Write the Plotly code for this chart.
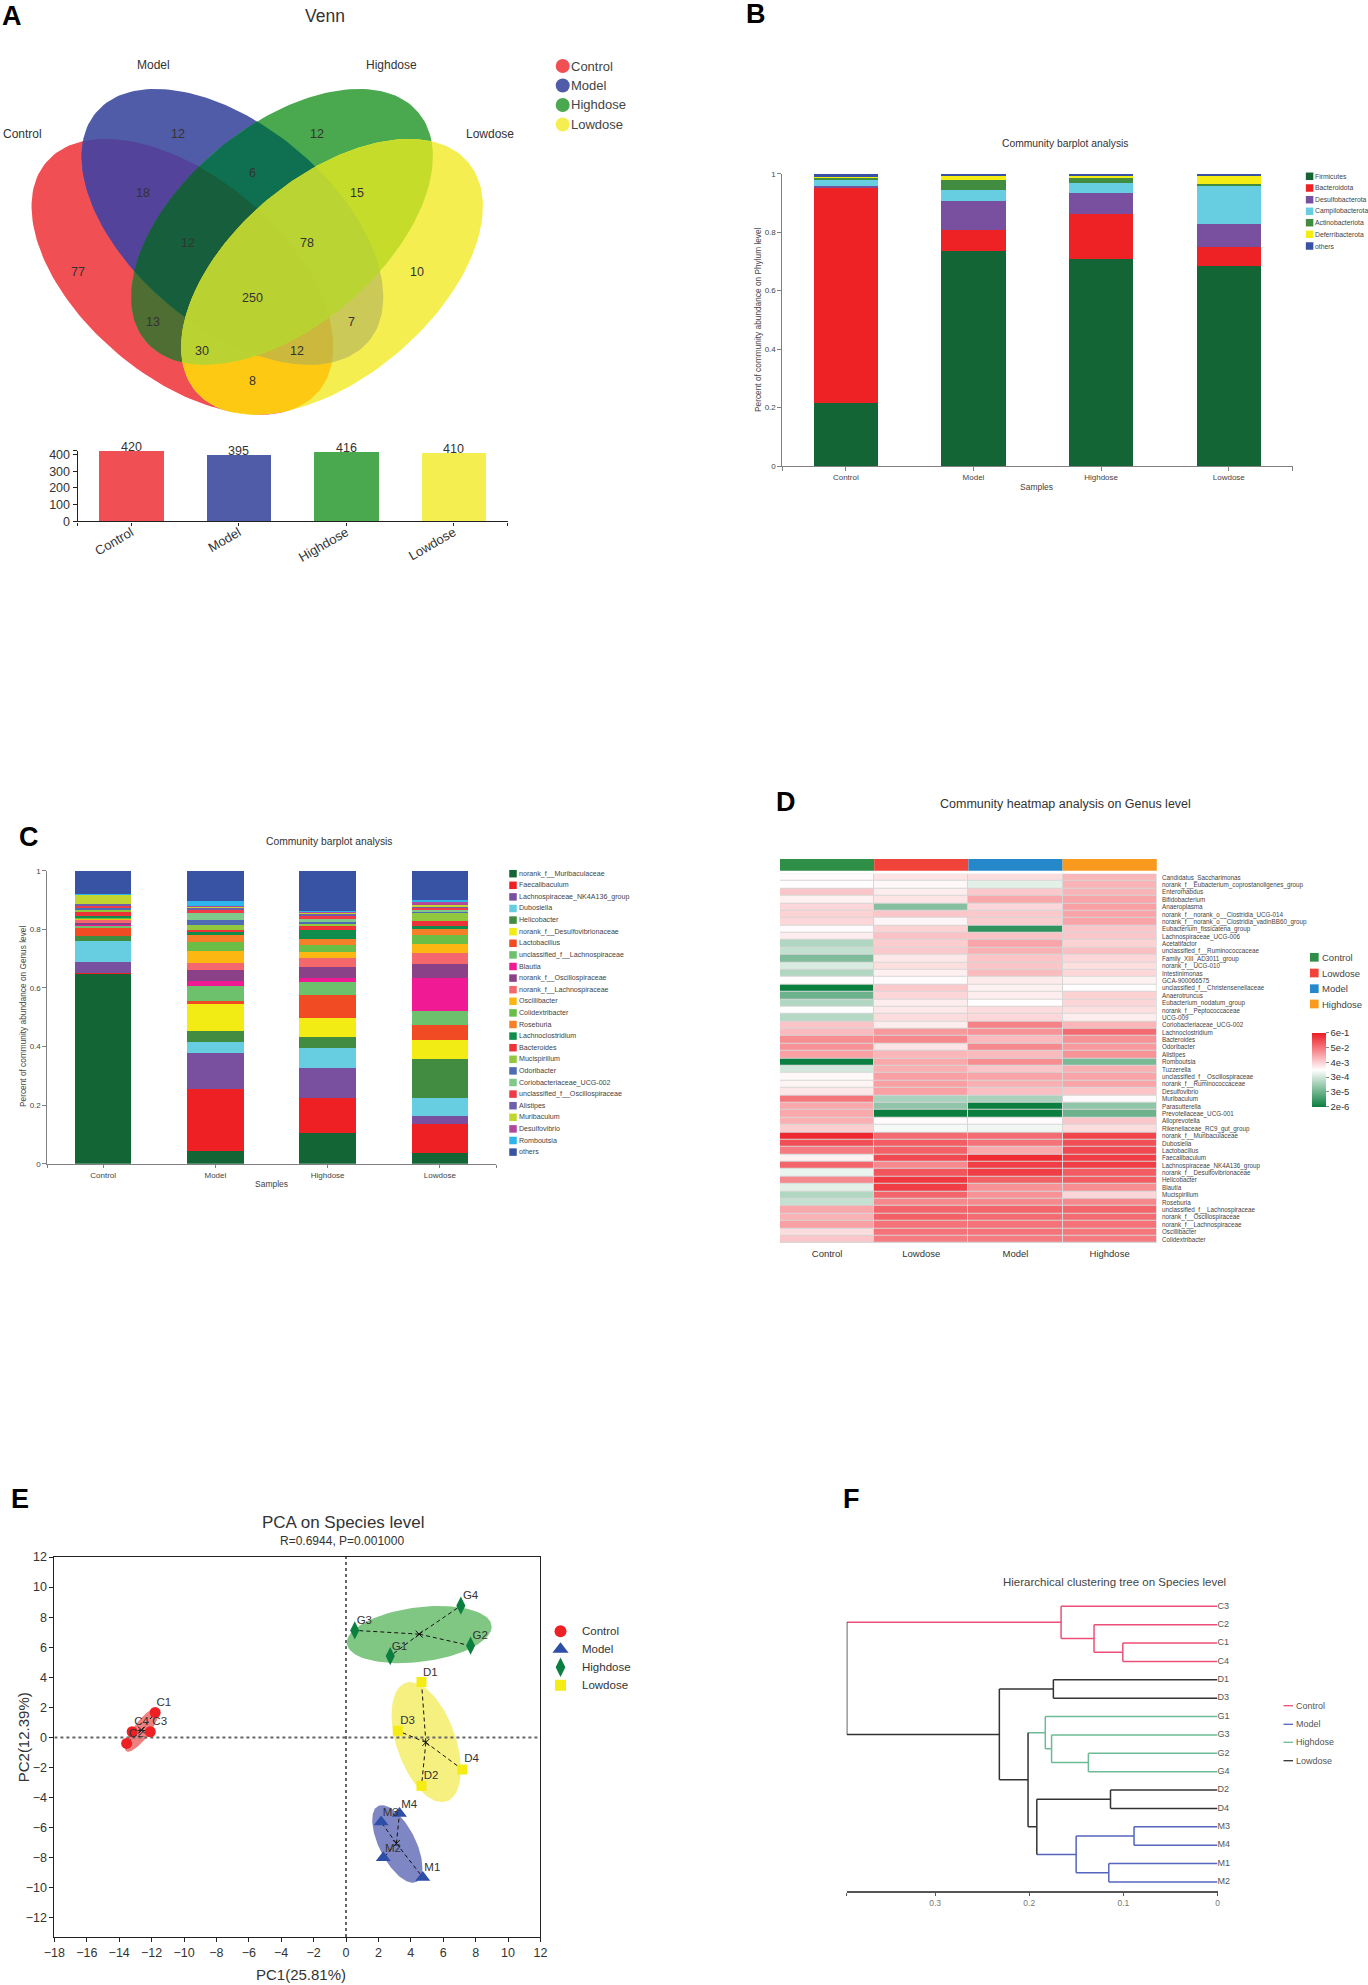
import itertools
import numpy as np
import plotly.graph_objects as go

W, H = 1368, 1985
FONT = "Liberation Sans"

GROUPS = ["Control", "Model", "Highdose", "Lowdose"]

# ---------- A: Venn ----------
venn_sizes = [420, 395, 416, 410]
venn_region_values = [
    ("12", 177.6, 134), ("12", 317, 134), ("6", 252, 173), ("18", 143, 193), ("15", 357, 193),
    ("12", 188, 243), ("78", 307, 243), ("77", 78, 272.5), ("10", 416.7, 272.5), ("250", 252, 297.5),
    ("13", 153, 322), ("7", 351, 322), ("30", 202, 351.4), ("12", 297, 351.4), ("8", 252, 381.4),
]
venn_cx = [182.4, 232.4, 282.0, 332.0]
venn_cy = [276.8, 226.8, 226.8, 276.8]
venn_a, venn_b = 178, 100.5
venn_theta = [40, 40, -40, -40]
venn_colors = ["#F04F54", "#515CA8", "#4AA84F", "#F5EE50"]
venn_overlap_colors = {
    (0, 1): "#53439A", (1, 2): "#0E7050", (2, 3): "#C6DC2B", (0, 3): "#FDC913",
    (0, 2): "#4F6E33", (1, 3): "#CBC957", (0, 1, 2): "#175F3C", (1, 2, 3): "#B9D433",
    (0, 2, 3): "#BAD232", (0, 1, 3): "#CBB83D", (0, 1, 2, 3): "#BAD132",
}

# ---------- B: phylum ----------
phylum_names = ["Firmicutes", "Bacteroidota", "Desulfobacterota", "Campilobacterota",
                "Actinobacteriota", "Deferribacterota", "others"]
phylum_colors = ["#136535", "#EE2124", "#794FA0", "#67CEE2", "#428C41", "#F5EC14", "#3853A4"]
phylum_control = [.214, .7414, .004, .018, .010, .0005, .0121]
phylum_model = [.7346, .074, .098, .0376, .034, .0172, .0046]
phylum_high = [.7096, .1537, .0717, .034, .0205, .0035, .007]
phylum_low = [.6845, .065, .0775, .13, .007, .032, .004]

# ---------- C: genus ----------
genus_names = ["norank_f__Muribaculaceae", "Faecalibaculum", "Lachnospiraceae_NK4A136_group", "Dubosiella",
               "Helicobacter", "norank_f__Desulfovibrionaceae", "Lactobacillus", "unclassified_f__Lachnospiraceae",
               "Blautia", "norank_f__Oscillospiraceae", "norank_f__Lachnospiraceae", "Oscillibacter",
               "Colidextribacter", "Roseburia", "Lachnoclostridium", "Bacteroides", "Mucispirillum", "Odoribacter",
               "Coriobacteriaceae_UCG-002", "unclassified_f__Oscillospiraceae", "Alistipes", "Muribaculum",
               "Desulfovibrio", "Romboutsia", "others"]
genus_colors = ["#136535", "#EE2024", "#794FA0", "#67CEE2", "#428C41", "#F3EC14", "#F04B22", "#6EC16C",
                "#EF1A94", "#8B4188", "#F4676D", "#FDB713", "#6ABD45", "#F68028", "#0F8D4D", "#EE3338",
                "#92C83E", "#4E6CB4", "#7FC98B", "#EE3B47", "#6D5FAB", "#C2D62F", "#B2489C", "#2EB6EC", "#3853A4"]
genus_control = [.6485, .001, .04, .0694, .0194, .0005, .0255, .009, .0005, .009, .0103, .0035, .0035, .001,
                 .0045, .017, .004, .0095, .001, .001, .0095, .0324, .001, .001, .078]
genus_model = [.0432, .2105, .1251, .0376, .0375, .091, .0103, .0523, .0148, .0387, .0239, .0398, .033, .0227,
               .0137, .0045, .0148, .0194, .0239, .0125, .0057, .0034, .0011, .0159, .1047]
genus_high = [.1047, .1183, .1035, .0683, .0364, .0671, .0774, .0443, .0148, .0364, .0296, .0216, .0239, .0205,
              .0318, .016, .0034, .0102, .0068, .0114, .0091, .0045, .0011, .0011, .1378]
genus_low = [.0364, .1001, .025, .0638, .1319, .0649, .0512, .0477, .1127, .0478, .0364, .0318, .0319, .0204,
             .0103, .0171, .0306, .0023, .0034, .0114, .0034, .0011, .0137, .0057, .099]

# ---------- D: heatmap (colour level, -100 = 2e-6 ... +100 = 6e-1, log scale) ----------
heat_groups = ["Control", "Lowdose", "Model", "Highdose"]
heat_group_colors = ["#2F8F46", "#F0433A", "#2488CB", "#F99A1F"]
heat_rows = ["Candidatus_Saccharimonas", "norank_f__Eubacterium_coprostanoligenes_group", "Enterorhabdus",
             "Bifidobacterium", "Anaeroplasma", "norank_f__norank_o__Clostridia_UCG-014",
             "norank_f__norank_o__Clostridia_vadinBB60_group", "Eubacterium_fissicatena_group",
             "Lachnospiraceae_UCG-006", "Acetatifactor", "unclassified_f__Ruminococcaceae",
             "Family_XIII_AD3011_group", "norank_f__UCG-010", "Intestinimonas", "GCA-900066575",
             "unclassified_f__Christensenellaceae", "Anaerotruncus", "Eubacterium_nodatum_group",
             "norank_f__Peptococcaceae", "UCG-009", "Coriobacteriaceae_UCG-002", "Lachnoclostridium", "Bacteroides",
             "Odoribacter", "Alistipes", "Romboutsia", "Tuzzerella", "unclassified_f__Oscillospiraceae",
             "norank_f__Ruminococcaceae", "Desulfovibrio", "Muribaculum", "Parasutterella", "Prevotellaceae_UCG-001",
             "Alloprevotella", "Rikenellaceae_RC9_gut_group", "norank_f__Muribaculaceae", "Dubosiella",
             "Lactobacillus", "Faecalibaculum", "Lachnospiraceae_NK4A136_group", "norank_f__Desulfovibrionaceae",
             "Helicobacter", "Blautia", "Mucispirillum", "Roseburia", "unclassified_f__Lachnospiraceae",
             "norank_f__Oscillospiraceae", "norank_f__Lachnospiraceae", "Oscillibacter", "Colidextribacter"]
heat_control = [2, 1, 25, 6, 18, 20, 18, 2, 8, -32, -24, -52, -15, -32, 1, -100, -60, -32, 0, -30, 26, 30, 50, 48, 42,
                -100, -18, 3, 5, 10, 60, 38, 38, 35, 22, 95, 78, 58, 6, 68, -8, 52, -12, -32, -24, 38, 34, 42, 15, 25]
heat_low = [12, 3, 8, 12, -50, 25, 4, 20, 27, 22, 24, 10, 14, 7, 2, 24, 18, 8, 10, 15, 8, 45, 52, 12, 32,
            38, 35, 42, 42, 42, -35, -45, -100, 2, -4, 65, 72, 70, 80, 52, 75, 88, 85, 68, 52, 68, 70, 62, 62, 58]
heat_model = [15, -12, 24, 38, 18, 24, 22, -85, 27, 40, 35, 26, 26, 30, 9, 6, 8, 1, 16, 17, 55, 48, 30, 52, 30,
              50, 25, 40, 35, 28, -35, -100, -100, 2, -6, 65, 62, 38, 93, 85, 85, 70, 48, 48, 52, 68, 65, 62, 62, 58]
heat_high = [32, 33, 33, 40, 42, 40, 40, 25, 25, 20, 28, 18, 14, 18, 6, 1, 20, 18, 14, 8, 32, 65, 48, 45, 48,
             -55, 35, 40, 40, 26, 2, -45, -60, 25, 15, 82, 78, 80, 85, 85, 72, 72, 50, 18, 52, 68, 65, 62, 60, 58]
heat_tick_levels = [-100, -60, -20, 20, 60, 100]
heat_tick_text = ["2e-6", "3e-5", "3e-4", "4e-3", "5e-2", "6e-1"]

# ---------- E: PCA ----------
pca_names = ["Control", "Model", "Highdose", "Lowdose"]
pca_x = {"Control": [-11.78, -13.54, -12.08, -13.2], "Model": [4.74, 2.3, 2.17, 3.3],
         "Highdose": [2.73, 7.69, .54, 7.09], "Lowdose": [4.66, 4.66, 3.2, 7.18]}
pca_y = {"Control": [1.66, -.4, .38, .38], "Model": [-9.31, -8.0, -5.63, -5.06],
         "Highdose": [5.41, 6.1, 7.12, 8.76], "Lowdose": [3.68, -3.22, .44, -2.13]}
pca_labels = {"Control": ["C1", "C2", "C3", "C4"], "Model": ["M1", "M2", "M3", "M4"],
              "Highdose": ["G1", "G2", "G3", "G4"], "Lowdose": ["D1", "D2", "D3", "D4"]}
pca_label_x = {"Control": [-11.24, -12.95, -11.5, -12.62], "Model": [5.33, 2.9, 2.76, 3.9],
               "Highdose": [3.3, 8.29, 1.13, 7.69], "Lowdose": [5.2, 5.25, 3.8, 7.75]}
pca_label_y = {"Control": [2.3, .22, 1.0, 1.04], "Model": [-8.72, -7.43, -5.06, -4.5],
               "Highdose": [5.98, 6.75, 7.76, 9.4], "Lowdose": [4.3, -2.57, 1.06, -1.47]}
pca_center = {"Control": (-12.62, .49), "Model": (3.11, -7.05), "Highdose": (4.52, 6.87), "Lowdose": (4.93, -.33)}
pca_ellipse = {"Control": (-12.6, .5, 1.05, 1.45, .95), "Model": (3.17, -7.08, 1.55, 2.58, -.66),
               "Highdose": (4.52, 6.84, 4.47, 1.9, .28), "Lowdose": (4.95, -.31, 2.14, 3.99, -.47)}
pca_fill = {"Control": "#EF8080", "Model": "#7F86C4", "Highdose": "#81C784", "Lowdose": "#F5F080"}
pca_marker = {"Control": ("circle", "#EE2024", 11), "Model": ("triangle-up", "#2E4FA8", 13),
              "Highdose": ("diamond-tall", "#0B7F40", 13), "Lowdose": ("square", "#F5EC14", 10)}

# ---------- F: dendrogram ----------
leaf_names = ["C3", "C2", "C1", "C4", "D1", "D3", "G1", "G3", "G2", "G4", "D2", "D4", "M3", "M4", "M1", "M2"]
DEN = {"C": "#EE4F78", "M": "#5565BE", "G": "#6DBB95", "D": "#333333"}
merge_left = ["C1", "C2", "C3", "D1", "G2", "G3", "G1", "D2", "M3", "M1", "m9", "m8", "m7", "m4", "m3"]
merge_right = ["C4", "m1", "m2", "D3", "G4", "m5", "m6", "D4", "M4", "M2", "m10", "m11", "m12", "m13", "m14"]
merge_height = [.1006, .1312, .1662, .1744, .1372, .1763, .183, .1137, .0887, .1155, .1502, .192, .2013, .2318, .394]
merge_clade = ["C", "C", "C", "D", "G", "G", "G", "D", "M", "M", "M", "D", "D", "D", "D"]
tree_max = .394


def xf(x):
    return x / W


def yf(y):
    return 1 - y / H


def xd(x0, x1):
    return [xf(x0), xf(x1)]


def yd(y0, y1):
    return [yf(y1), yf(y0)]


fig = go.Figure()
ann = []


def note(x, y, text, size=10, color="#333333", anchor="center", angle=0, bold=False):
    ann.append(dict(x=xf(x), y=yf(y), xref="paper", yref="paper", text=f"<b>{text}</b>" if bold else text,
                    showarrow=False, xanchor=anchor, yanchor="middle", textangle=angle, borderpad=0, borderwidth=0,
                    font=dict(size=size, color=color, family=FONT)))


def swatches(colors, names, xm, xt, ys, symbol, msize, fsize, color="#444444"):
    for c, n, y in zip(colors, names, ys):
        fig.add_trace(go.Scatter(x=[xm], y=[y], mode="markers", hoverinfo="skip",
                                 marker=dict(symbol=symbol, size=msize, color=c, line=dict(width=0))))
        note(xt, y, n, fsize, color, "left")


def ellipse_poly(cx, cy, a, b, theta, n=181):
    t = np.linspace(0, 2 * np.pi, n)
    th = np.radians(theta)
    return list(zip(cx + a * np.cos(t) * np.cos(th) - b * np.sin(t) * np.sin(th),
                    cy + a * np.cos(t) * np.sin(th) + b * np.sin(t) * np.cos(th)))


def clip(subject, clipper):
    out = subject
    for (ax, ay), (bx, by) in zip(clipper[:-1], clipper[1:]):
        src, out = out, []
        if not src:
            break
        side = lambda p: (bx - ax) * (p[1] - ay) - (by - ay) * (p[0] - ax)
        for p, q in zip(src, src[1:] + src[:1]):
            sp, sq = side(p), side(q)
            if sp >= 0:
                out.append(p)
            if (sp >= 0) != (sq >= 0):
                r = sp / (sp - sq)
                out.append((p[0] + r * (q[0] - p[0]), p[1] + r * (q[1] - p[1])))
    return out


polys = [ellipse_poly(cx, cy, venn_a, venn_b, th) for cx, cy, th in zip(venn_cx, venn_cy, venn_theta)]
for size in range(1, 5):
    for combo in itertools.combinations(range(4), size):
        shape = polys[combo[0]]
        for k in combo[1:]:
            shape = clip(shape, polys[k])
        col = venn_colors[combo[0]] if size == 1 else venn_overlap_colors[combo]
        if shape:
            xs, ys = zip(*shape)
            fig.add_trace(go.Scatter(x=list(xs) + [xs[0]], y=list(ys) + [ys[0]], mode="lines", fill="toself",
                                     fillcolor=col, line=dict(width=0), hoverinfo="skip"))
for t, x, y in venn_region_values:
    note(x, y, t, 12.5, "#333333")
note(325, 16.5, "Venn", 17.5)
note(153.5, 64.6, "Model", 12)
note(391, 64.6, "Highdose", 12)
note(22, 134, "Control", 12)
note(489.5, 134, "Lowdose", 12)
swatches(venn_colors, GROUPS, 562.7, 571, [66, 85.5, 105, 124.5], "circle", 14, 13)

swatches(phylum_colors, phylum_names, 1309.6, 1315, [176.3, 188, 199.7, 211.3, 222.7, 234.3, 246], "square", 7.5, 6.8)
swatches(genus_colors, genus_names, 513, 518.7, [873.7 + 11.6 * i for i in range(25)], "square", 7.5, 7.1)
swatches(heat_group_colors, heat_groups, 1314.3, 1321.7, [957.3, 973, 988.7, 1004], "square", 8.7, 9.5)
for name, y in zip(pca_names, [1631.3, 1649.3, 1667.3, 1685.3]):
    sym, col, size = pca_marker[name]
    fig.add_trace(go.Scatter(x=[560.5], y=[y], mode="markers", hoverinfo="skip",
                             marker=dict(symbol=sym, size=size + 1, color=col, line=dict(width=0))))
    note(582, y, name, 11.5, anchor="left")
for name, c, y in zip(GROUPS, ["C", "M", "G", "D"], [1705.7, 1724.3, 1742.3, 1760.7]):
    fig.add_trace(go.Scatter(x=[1283.5, 1293], y=[y, y], mode="lines", hoverinfo="skip",
                             line=dict(color=DEN[c], width=1.3)))
    note(1295.8, y, name, 9, "#555555", "left")

for i, c in enumerate(heat_group_colors):
    fig.add_trace(go.Scatter(x=[780 + i * 94.2, 780 + (i + 1) * 94.2], y=[864.8, 864.8], mode="lines",
                             line=dict(color=c, width=11.7), hoverinfo="skip"))

for letter, x, y in [("A", 12, 16), ("B", 756, 14), ("C", 29, 837), ("D", 786, 802), ("E", 20, 1499), ("F", 851, 1499)]:
    note(x, y, letter, 27, "#000000", bold=True)

# ---------- A bars (x2, y2) ----------
fig.add_trace(go.Bar(x=GROUPS, y=venn_sizes, width=0.6, marker=dict(color=venn_colors, line=dict(width=0)),
                     xaxis="x2", yaxis="y2", hoverinfo="skip"))
for g, v in zip(GROUPS, venn_sizes):
    ann.append(dict(x=g, y=v, xref="x2", yref="y2", text=str(v), showarrow=False, yanchor="middle", yshift=4,
                    font=dict(size=12.5, color="#333333", family=FONT)))

# ---------- B stacked (x3, y3) ----------
for i, n in enumerate(phylum_names):
    vals = [phylum_control[i], phylum_model[i], phylum_high[i], phylum_low[i]]
    fig.add_trace(go.Bar(x=GROUPS, y=vals, name=n, width=0.504, marker=dict(color=phylum_colors[i], line=dict(width=0)),
                         xaxis="x3", yaxis="y3"))

# ---------- C stacked (x4, y4) ----------
for i, n in enumerate(genus_names):
    vals = [genus_control[i], genus_model[i], genus_high[i], genus_low[i]]
    fig.add_trace(go.Bar(x=GROUPS, y=vals, name=n, width=0.505, marker=dict(color=genus_colors[i], line=dict(width=0)),
                         xaxis="x4", yaxis="y4"))

# ---------- D heatmap (x5, y5) ----------
z = [list(r) for r in zip(heat_control, heat_low, heat_model, heat_high)]
fig.add_trace(go.Heatmap(z=z, x=heat_groups, y=heat_rows, xaxis="x5", yaxis="y5", zmin=-100, zmax=100, xgap=1, ygap=1,
                         colorscale=[[0, "#0B7F3F"], [.5, "#FFFFFF"], [1, "#EE1C25"]],
                         colorbar=dict(x=xf(1311.7), xanchor="left", y=yf(1106.7), yanchor="bottom",
                                       len=74.4 / H, lenmode="fraction", thickness=14.3, thicknessmode="pixels",
                                       xpad=0, ypad=0, outlinewidth=0, tickvals=heat_tick_levels,
                                       ticktext=heat_tick_text, ticks="outside", ticklen=3, tickcolor="#888888",
                                       tickfont=dict(size=9.5, color="#333333", family=FONT))))

# ---------- E PCA (x6, y6) ----------
for name in pca_names:
    cx, cy, hw, hh, ph = pca_ellipse[name]
    t = np.linspace(0, 2 * np.pi, 120)
    fig.add_trace(go.Scatter(x=cx + hw * np.cos(t), y=cy + hh * np.sin(t + ph), mode="lines", fill="toself",
                             fillcolor=pca_fill[name], line=dict(width=0), xaxis="x6", yaxis="y6", hoverinfo="skip"))
fig.add_trace(go.Scatter(x=[-18, 12], y=[0, 0], mode="lines", line=dict(color="#666666", width=2, dash="dot"),
                         xaxis="x6", yaxis="y6", hoverinfo="skip"))
fig.add_trace(go.Scatter(x=[0, 0], y=[-13.27, 12], mode="lines", line=dict(color="#666666", width=2, dash="dot"),
                         xaxis="x6", yaxis="y6", hoverinfo="skip"))
for name in pca_names:
    cx, cy = pca_center[name]
    lx, ly = [], []
    for px, py in zip(pca_x[name], pca_y[name]):
        lx += [cx, px, None]
        ly += [cy, py, None]
    fig.add_trace(go.Scatter(x=lx, y=ly, mode="lines", line=dict(color="#111111", width=1, dash="4px,3px"),
                             xaxis="x6", yaxis="y6", hoverinfo="skip"))
    fig.add_trace(go.Scatter(x=[cx], y=[cy], mode="markers", marker=dict(symbol="x-thin", size=7,
                             line=dict(color="#111111", width=1)), xaxis="x6", yaxis="y6", hoverinfo="skip"))
    sym, col, size = pca_marker[name]
    fig.add_trace(go.Scatter(x=pca_x[name], y=pca_y[name], mode="markers", xaxis="x6", yaxis="y6", name=name,
                             marker=dict(symbol=sym, size=size, color=col, line=dict(width=0))))
    fig.add_trace(go.Scatter(x=pca_label_x[name], y=pca_label_y[name], text=pca_labels[name], mode="text",
                             textfont=dict(size=11.5, color="#333333", family=FONT), xaxis="x6", yaxis="y6",
                             hoverinfo="skip"))

# ---------- F dendrogram (x7, y7) ----------
pos = {n: (0.0, float(i)) for i, n in enumerate(leaf_names)}
clade_of = {n: n[0] for n in leaf_names}
seg = {k: ([], []) for k in DEN}
for i, (a, b, h, c) in enumerate(zip(merge_left, merge_right, merge_height, merge_clade), start=1):
    (ha, ya), (hb, yb) = pos[a], pos[b]
    for hh_, yy_, child in ((ha, ya, a), (hb, yb, b)):
        sx, sy = seg[clade_of[child]]
        sx += [hh_, h, None]
        sy += [yy_, yy_, None]
    seg[c][0].extend([h, h, None])
    seg[c][1].extend([ya, yb, None])
    pos[f"m{i}"] = (h, (ya + yb) / 2)
    clade_of[f"m{i}"] = c
for k, (sx, sy) in seg.items():
    fig.add_trace(go.Scatter(x=sx, y=sy, mode="lines", line=dict(color=DEN[k], width=1.5), xaxis="x7", yaxis="y7",
                             hoverinfo="skip"))
fig.add_trace(go.Scatter(x=[0] * len(leaf_names), y=list(range(len(leaf_names))), text=leaf_names, mode="text",
                         textposition="middle right", textfont=dict(size=9, color="#555555", family=FONT),
                         xaxis="x7", yaxis="y7", hoverinfo="skip", cliponaxis=False))

# ---------- panel texts ----------
note(1064.5, 144, "Community barplot analysis", 10.3)
note(1036, 487, "Samples", 8.5, "#444444")
note(758, 320, "Percent of community abundance on Phylum level", 8.3, "#444444", angle=-90)
note(329.4, 841, "Community barplot analysis", 10.3)
note(271, 1184, "Samples", 8.5, "#444444")
note(22.3, 1016.7, "Percent of community abundance on Genus level", 8.3, "#444444", angle=-90)
note(1065.6, 804.3, "Community heatmap analysis on Genus level", 12.5)
note(343.4, 1522, "PCA on Species level", 17)
note(342, 1540.7, "R=0.6944, P=0.001000", 12)
note(301, 1974, "PC1(25.81%)", 15)
note(23, 1737.3, "PC2(12.39%)", 15, angle=-90)
note(1114.7, 1581.7, "Hierarchical clustering tree on Species level", 11.5, "#444444")

grey_axis = dict(showline=True, linecolor="#808080", linewidth=1.2, showgrid=False, zeroline=False,
                 ticks="outside", ticklen=3.5, tickcolor="#808080", tickwidth=1)
ends = [-.5, 0, 1, 2, 3, 3.5]
end_text = [""] + GROUPS + [""]
CLEAR = "rgba(0,0,0,0)"


def cat_axis(domain, anchor, fsize, color):
    return dict(domain=domain, anchor=anchor, type="category", categoryorder="array", categoryarray=GROUPS,
                range=[-.5, 3.5], tickmode="array", tickvals=ends, ticktext=end_text,
                tickfont=dict(size=fsize, color=color, family=FONT), **grey_axis)


def frac_axis(domain, anchor):
    return dict(domain=domain, anchor=anchor, range=[0, 1], tickmode="array", tickvals=[0, .2, .4, .6, .8, 1],
                tickfont=dict(size=8, color="#444444", family=FONT), **grey_axis)


black_axis = dict(showline=True, linecolor="#222222", linewidth=1, mirror=True, showgrid=False, zeroline=False,
                  ticks="outside", ticklen=4, tickcolor="#222222", tickfont=dict(size=12.5, color="#333333", family=FONT))

fig.update_layout(
    width=W, height=H, margin=dict(l=0, r=0, t=0, b=0, autoexpand=False), autosize=False, showlegend=False,
    paper_bgcolor="white", plot_bgcolor=CLEAR, barmode="stack", font=dict(family=FONT),
    annotations=ann,
    shapes=[dict(type="rect", xref="paper", yref="paper", x0=xf(780), x1=xf(1156.7), y0=yf(1243), y1=yf(873.7),
                 fillcolor="#D6D6D6", line=dict(width=0), layer="below")],
    xaxis=dict(domain=[0, 1], range=[0, W], visible=False, fixedrange=True),
    yaxis=dict(domain=[0, 1], range=[H, 0], visible=False, fixedrange=True),
    xaxis2=dict(cat_axis(xd(77.6, 507.5), "y2", 13, "#333333"), tickangle=-30, linecolor="#222222", tickcolor="#222222",
                ticklabelstandoff=-6),
    yaxis2=dict(domain=yd(450.7, 521.4), anchor="x2", range=[0, 423], tickmode="array",
                tickvals=[0, 100, 200, 300, 400, 423], ticktext=["0", "100", "200", "300", "400", ""],
                showline=True, linecolor="#222222", linewidth=1.2, showgrid=False, zeroline=False, ticks="outside",
                ticklen=4, tickcolor="#222222", tickfont=dict(size=12.5, color="#333333", family=FONT)),
    xaxis3=cat_axis(xd(782, 1292.6), "y3", 8, "#444444"),
    yaxis3=frac_axis(yd(173.7, 466), "x3"),
    xaxis4=cat_axis(xd(47, 496), "y4", 8, "#444444"),
    yaxis4=frac_axis(yd(870.7, 1163.7), "x4"),
    xaxis5=dict(domain=xd(780, 1156.7), anchor="y5", side="bottom", showgrid=False, zeroline=False, ticks="outside",
                ticklen=2, tickcolor=CLEAR, tickfont=dict(size=9.5, color="#333333", family=FONT)),
    yaxis5=dict(domain=yd(873.7, 1243), anchor="x5", side="right", autorange="reversed", showgrid=False, zeroline=False,
                tickmode="array", tickvals=heat_rows, ticktext=heat_rows, ticks="outside", ticklen=3, tickcolor=CLEAR,
                tickfont=dict(size=6.3, color="#444444", family=FONT)),
    xaxis6=dict(black_axis, domain=xd(54.4, 540.4), anchor="y6", range=[-18, 12], tickmode="linear", tick0=-18, dtick=2),
    yaxis6=dict(black_axis, domain=yd(1557, 1937), anchor="x6", range=[-13.27, 12], tickmode="array",
                tickvals=list(range(-12, 13, 2))),
    xaxis7=dict(domain=xd(846.7, 1217.5), anchor="y7", range=[tree_max, 0], showline=True, linecolor="#555555",
                linewidth=1.5, showgrid=False, zeroline=False, ticks="outside", ticklen=3, tickcolor="#555555",
                tickmode="array", tickvals=[tree_max, .3, .2, .1, 0], ticktext=["", "0.3", "0.2", "0.1", "0"],
                tickfont=dict(size=8.5, color="#777777", family=FONT)),
    yaxis7=dict(domain=yd(1597.1, 1891), anchor="x7", range=[15.49, -.5], visible=False),
)

fig.write_html("out.html", config=dict(displayModeBar=False), post_script="document.body.style.margin='0';")
